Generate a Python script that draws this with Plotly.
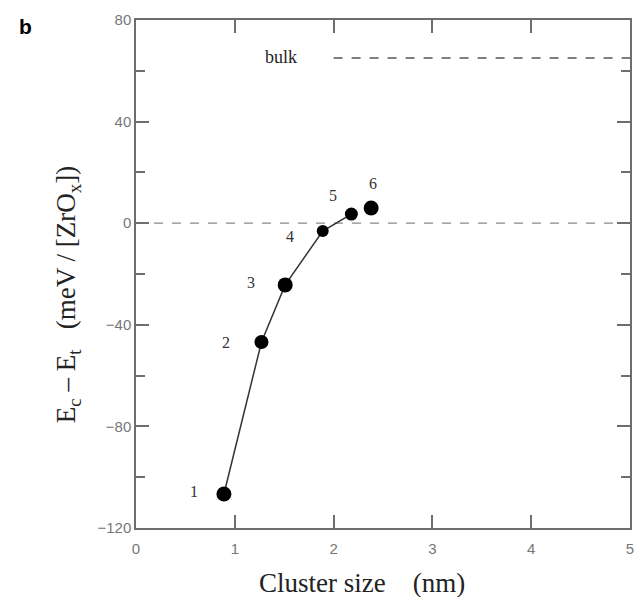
import plotly.graph_objects as go

# Data
cluster_size = [0.89, 1.27, 1.51, 1.89, 2.18]
energy_diff = [-106.6, -46.8, -24.3, -3.1, 3.6]
extra_size = [2.38]
extra_energy = [6.0]
point_labels = ["1", "2", "3", "4", "5", "6"]
marker_sizes = [15, 14, 15, 12, 13]
bulk_x = [2.0, 5.0]
bulk_y = [65.0, 65.0]
zero_x = [0.0, 5.0]
zero_y = [0.0, 0.0]
x_ticks = [0, 1, 2, 3, 4, 5]
y_ticks = [-120, -80, -40, 0, 40, 80]
y_minor_ticks = [-100, -60, -20, 20, 60]

# label offsets in pixels (x, y)
label_shifts = [(-30, 2), (-35, 0), (-34, 2), (-33, -5), (-18, 19), (2, 24)]

serif = "Liberation Serif"
sans = "Liberation Sans"
axis_col = "#6e6e6e"

fig = go.Figure()

fig.add_trace(go.Scatter(x=zero_x, y=zero_y, mode="lines",
                         line=dict(color="#8a8a8a", width=1.2, dash="dash"),
                         hoverinfo="skip", showlegend=False))
fig.add_trace(go.Scatter(x=bulk_x, y=bulk_y, mode="lines",
                         line=dict(color="#555555", width=1.5, dash="dash"),
                         hoverinfo="skip", showlegend=False))
fig.add_trace(go.Scatter(x=cluster_size, y=energy_diff, mode="lines+markers",
                         line=dict(color="#333333", width=1.5),
                         marker=dict(color="black", size=marker_sizes, opacity=1,
                                     line=dict(width=0)),
                         showlegend=False))
fig.add_trace(go.Scatter(x=extra_size, y=extra_energy, mode="markers",
                         marker=dict(color="black", size=15, opacity=1),
                         showlegend=False))

all_x = cluster_size + extra_size
all_y = energy_diff + extra_energy
for lab, xv, yv, (dx, dy) in zip(point_labels, all_x, all_y, label_shifts):
    fig.add_annotation(x=xv, y=yv, text=lab, showarrow=False,
                       xshift=dx, yshift=dy,
                       font=dict(family=serif, size=16, color="#333333"))

fig.add_annotation(x=1.47, y=65.5, text="bulk", showarrow=False,
                   font=dict(family=serif, size=18, color="#222222"))
fig.add_annotation(x=-0.223, y=0.988, xref="paper", yref="paper", text="<b>b</b>",
                   xanchor="center", yanchor="middle",
                   showarrow=False, font=dict(family=sans, size=21, color="black"))

fig.add_annotation(xref="paper", yref="paper", x=-0.137, y=0.459,
                   xanchor="center", yanchor="middle",
                   text="E<sub>c</sub>\u00a0\u2013\u00a0E<sub>t</sub>\u00a0\u00a0\u00a0(meV / [ZrO<sub>x</sub>])",
                   textangle=-90, showarrow=False,
                   font=dict(family=serif, size=27, color="#222222"))

fig.add_annotation(xref="paper", yref="paper", x=0.458, y=-0.108,
                   xanchor="center", yanchor="middle",
                   text="Cluster size\u00a0\u00a0\u00a0 (nm)",
                   showarrow=False,
                   font=dict(family=serif, size=27, color="#222222"))

fig.update_layout(
    width=638, height=597,
    margin=dict(l=136, r=4, t=20, b=69),
    plot_bgcolor="white", paper_bgcolor="white",
    xaxis=dict(range=[0, 5], tickmode="array", tickvals=x_ticks,
               ticks="inside", ticklen=13, tickcolor=axis_col, tickwidth=1.5,
               showline=True, linecolor=axis_col, linewidth=1.5, mirror="ticks",
               showgrid=False, zeroline=False, ticklabelstandoff=6,
               tickfont=dict(family=sans, size=15, color="#777777")),
    yaxis=dict(range=[-120, 80], tickmode="array", tickvals=y_ticks,
               ticks="inside", ticklen=13, tickcolor=axis_col, tickwidth=1.5,
               showline=True, linecolor=axis_col, linewidth=1.5, mirror="ticks",
               showgrid=False, zeroline=False,
               minor=dict(tickvals=y_minor_ticks, ticks="inside",
                          ticklen=9, tickcolor=axis_col, tickwidth=1.5, showgrid=False),
               tickfont=dict(family=sans, size=15, color="#777777")),
)

fig.write_html("out.html")
